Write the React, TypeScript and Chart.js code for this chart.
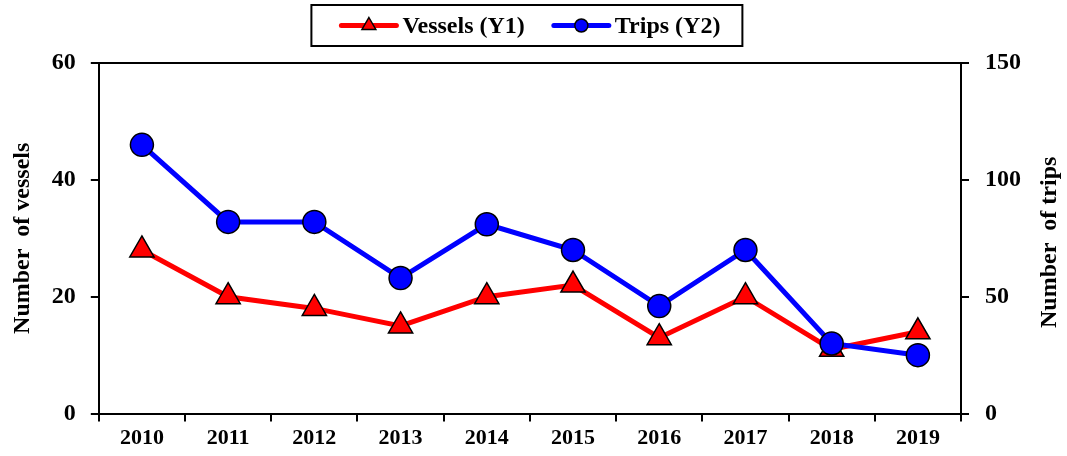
import React, { useEffect, useRef } from "react";
import { Chart, registerables } from "chart.js";

Chart.register(...registerables);

const years = ["2010", "2011", "2012", "2013", "2014", "2015", "2016", "2017", "2018", "2019"];
const vessels = [28, 20, 18, 15, 20, 22, 13, 20, 11, 14];
const trips = [115, 82, 82, 58, 81, 70, 46, 70, 30, 25];

const seriesLabels = ["Vessels (Y1)", "Trips (Y2)"];
const axisTitles = ["Number  of vessels", "Number  of trips"];

const FONT = "'Liberation Serif', 'Times New Roman', serif";

const framePlugin = {
  id: "frameAndLegend",
  afterDraw(chart: any) {
    const ctx = chart.ctx as CanvasRenderingContext2D;
    const area = chart.chartArea;
    ctx.save();
    // top border of plot
    ctx.strokeStyle = "#000";
    ctx.lineWidth = 2;
    ctx.beginPath();
    ctx.moveTo(area.left - 1, area.top);
    ctx.lineTo(area.right + 1, area.top);
    ctx.stroke();

    // right axis title, reading bottom-to-top
    ctx.save();
    ctx.font = `bold 24px ${FONT}`;
    ctx.fillStyle = "#000";
    ctx.textAlign = "center";
    ctx.textBaseline = "middle";
    ctx.translate(chart.width - 17, (area.top + area.bottom) / 2 + 4);
    ctx.rotate(-Math.PI / 2);
    ctx.fillText(axisTitles[1], 0, 0);
    ctx.restore();

    // legend
    ctx.font = `bold 24px ${FONT}`;
    const ds = chart.data.datasets;
    const lineLen = 55;
    const gapText = 6;
    const itemGap = 29;
    const padL = 30;
    const padR = 22;
    const widths = ds.map((d: any) => ctx.measureText(d.label).width);
    const content =
      widths.reduce((s: number, w: number) => s + lineLen + gapText + w, 0) + itemGap * (ds.length - 1);
    const boxW = content + padL + padR;
    const cx = (area.left + area.right) / 2 - 3;
    const x0 = cx - boxW / 2;
    const top = 5;
    const h = 41;
    ctx.strokeStyle = "#000";
    ctx.lineWidth = 2;
    ctx.strokeRect(x0, top, boxW, h);
    let x = x0 + padL;
    const y = top + h / 2;
    ds.forEach((d: any, i: number) => {
      ctx.strokeStyle = d.borderColor;
      ctx.lineWidth = 5;
      ctx.lineCap = "round";
      ctx.beginPath();
      ctx.moveTo(x, y);
      ctx.lineTo(x + lineLen, y);
      ctx.stroke();
      const mx = x + lineLen / 2;
      ctx.fillStyle = d.pointBackgroundColor;
      ctx.strokeStyle = "#000";
      ctx.lineWidth = 1.5;
      ctx.beginPath();
      if (d.pointStyle === "triangle") {
        const r = 8;
        ctx.moveTo(mx, y - r);
        ctx.lineTo(mx + r * 0.866, y + r * 0.5);
        ctx.lineTo(mx - r * 0.866, y + r * 0.5);
        ctx.closePath();
      } else {
        ctx.arc(mx, y, 6.5, 0, Math.PI * 2);
      }
      ctx.fill();
      ctx.stroke();
      ctx.fillStyle = "#000";
      ctx.textBaseline = "middle";
      ctx.textAlign = "left";
      ctx.fillText(d.label, x + lineLen + gapText, y + 1);
      x += lineLen + gapText + widths[i] + itemGap;
    });
    ctx.restore();
  },
};

export default function App() {
  const ref = useRef<HTMLCanvasElement | null>(null);

  useEffect(() => {
    document.body.style.margin = "0";
    const canvas = ref.current;
    if (!canvas) return;
    const chart = new Chart(canvas, {
      type: "line",
      data: {
        labels: years,
        datasets: [
          {
            label: seriesLabels[0],
            data: vessels,
            yAxisID: "y",
            borderColor: "#FF0000",
            backgroundColor: "#FF0000",
            borderWidth: 5,
            pointStyle: "triangle",
            pointRadius: 14,
            pointBackgroundColor: "#FF0000",
            pointBorderColor: "#000000",
            pointBorderWidth: 1.5,
            tension: 0,
            order: 1,
          },
          {
            label: seriesLabels[1],
            data: trips,
            yAxisID: "y2",
            borderColor: "#0000FF",
            backgroundColor: "#0000FF",
            borderWidth: 5,
            pointStyle: "circle",
            pointRadius: 11.5,
            pointBackgroundColor: "#0000FF",
            pointBorderColor: "#000000",
            pointBorderWidth: 1.5,
            tension: 0,
            order: 0,
          },
        ],
      },
      options: {
        responsive: false,
        animation: false,
        devicePixelRatio: 1,
        layout: { padding: { top: 63, left: 0, right: 30, bottom: 0 } },
        plugins: {
          legend: { display: false },
          tooltip: { enabled: false },
        },
        scales: {
          x: {
            type: "category",
            offset: true,
            grid: {
              offset: true,
              drawOnChartArea: false,
              drawTicks: true,
              tickLength: 8,
              color: "#000",
              lineWidth: 2,
            },
            border: { display: true, color: "#000", width: 2 },
            ticks: {
              color: "#000",
              padding: 4,
              font: { family: FONT, size: 22, weight: "bold" },
              maxRotation: 0,
              autoSkip: false,
            },
          },
          y: {
            position: "left",
            min: 0,
            max: 60,
            grid: {
              drawOnChartArea: false,
              drawTicks: true,
              tickLength: 8,
              color: "#000",
              lineWidth: 2,
            },
            border: { display: true, color: "#000", width: 2 },
            ticks: {
              stepSize: 20,
              color: "#000",
              padding: 15,
              font: { family: FONT, size: 24, weight: "bold" },
            },
            title: {
              display: true,
              text: axisTitles[0],
              color: "#000",
              font: { family: FONT, size: 24, weight: "bold" },
              padding: { top: 8, bottom: 0 },
            },
          },
          y2: {
            position: "right",
            min: 0,
            max: 150,
            grid: {
              drawOnChartArea: false,
              drawTicks: true,
              tickLength: 8,
              color: "#000",
              lineWidth: 2,
            },
            border: { display: true, color: "#000", width: 2 },
            ticks: {
              stepSize: 50,
              color: "#000",
              padding: 16,
              font: { family: FONT, size: 24, weight: "bold" },
            },
          },
        },
      },
      plugins: [framePlugin],
    });
    return () => chart.destroy();
  }, []);

  return (
    <div style={{ position: "absolute", left: 0, top: 0, width: 1067, height: 456 }}>
      <canvas ref={ref} width={1067} height={456} />
    </div>
  );
}
